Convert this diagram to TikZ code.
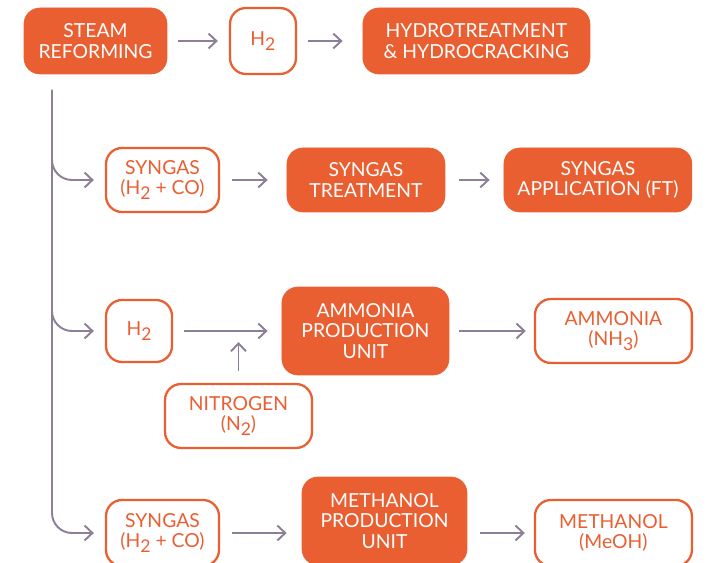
\documentclass[tikz,border=0pt]{standalone}
\usepackage{fontspec}
\setmainfont{Lato}
\usetikzlibrary{arrows.meta, positioning}
\definecolor{flame}{HTML}{E95F32}
\definecolor{pipe}{HTML}{8C7F96}
\newcommand{\chemsub}[1]{\raisebox{-0.45ex}{\fontsize{10}{10}\selectfont #1}}
\tikzstyle{unit} = [rectangle, rounded corners=0.32cm, fill=flame, draw=flame, text=white, align=center, inner sep=0pt, font=\fontsize{11}{11.5}\selectfont]
\tikzstyle{product} = [rectangle, rounded corners=0.32cm, draw=flame, line width=1.3pt, fill=white, text=flame, align=center, inner sep=0pt, font=\fontsize{11}{11.5}\selectfont]
\tikzstyle{arrow} = [line width=1.1pt, draw=pipe, -{Straight Barb[length=4.5pt,width=8.5pt,line width=1.1pt]}, shorten <=0.22cm, shorten >=0.22cm]

\begin{document}
\begin{tikzpicture}[x=0.02cm, y=-0.02cm]
\clip (0,0) rectangle (708,563);

% Nodes
\node (steam) [unit, minimum width=2.86cm, minimum height=1.32cm] at (95.5,41) {STEAM\\REFORMING};
\node (h2top) [product, minimum width=1.32cm, minimum height=1.32cm, right of=steam, node distance=3.35cm] {H\chemsub{2}};
\node (hydro) [unit, minimum width=4.54cm, minimum height=1.32cm, right of=h2top, node distance=4.27cm] {HYDROTREATMENT\\\& HYDROCRACKING};

\node (syn1) [product, minimum width=2.26cm, minimum height=1.28cm] at (162.5,180) {SYNGAS\\(H\chemsub{2} + CO)};
\node (syntreat) [unit, minimum width=3.16cm, minimum height=1.28cm, right of=syn1, node distance=4.07cm] {SYNGAS\\TREATMENT};
\node (synapp) [unit, minimum width=3.76cm, minimum height=1.28cm, right of=syntreat, node distance=4.64cm] {SYNGAS\\APPLICATION (FT)};

\node (h2mid) [product, minimum width=1.32cm, minimum height=1.24cm] at (139,331) {H\chemsub{2}};
\node (ammunit) [unit, minimum width=3.34cm, minimum height=1.76cm, right of=h2mid, node distance=4.53cm] {AMMONIA\\PRODUCTION\\UNIT};
\node (ammonia) [product, minimum width=3.14cm, minimum height=1.28cm, right of=ammunit, node distance=4.96cm] {AMMONIA\\(NH\chemsub{3})};
\node (nitrogen) [product, minimum width=2.94cm, minimum height=1.28cm] at (238.5,416) {NITROGEN\\(N\chemsub{2})};

\node (syn2) [product, minimum width=2.26cm, minimum height=1.32cm] at (162.5,533) {SYNGAS\\(H\chemsub{2} + CO)};
\node (methunit) [unit, minimum width=3.3cm, minimum height=1.76cm] at (384.5,521) {METHANOL\\PRODUCTION\\UNIT};
\node (methanol) [product, minimum width=3.14cm, minimum height=1.32cm, right of=syn2, node distance=9.02cm] {METHANOL\\(MeOH)};

\coordinate (trunk) at (52,90);
\coordinate (merge) at (nitrogen |- h2mid);

% Arrows
\draw [arrow] (steam) -- (h2top);
\draw [arrow, shorten >=0.4cm] (h2top) -- (hydro);
\draw [arrow, rounded corners=0.4cm, shorten <=0pt] (trunk) |- (syn1);
\draw [arrow, rounded corners=0.4cm, shorten <=0pt] (trunk) |- (h2mid);
\draw [arrow, rounded corners=0.4cm, shorten <=0pt] (trunk) |- (syn2);
\draw [arrow, shorten <=0.24cm, shorten >=0.38cm] (syn1) -- (syntreat);
\draw [arrow, shorten <=0.28cm, shorten >=0.28cm] (syntreat) -- (synapp);
\draw [arrow, shorten >=0.28cm] (h2mid) -- (ammunit);
\draw [arrow, shorten <=0.2cm, shorten >=0.16cm] (ammunit) -- (ammonia);
\draw [arrow, shorten <=0.24cm, shorten >=0.22cm] (nitrogen) -- (merge);
\draw [arrow, shorten <=0.24cm, shorten >=0.3cm] (syn2) -- (syn2 -| methunit.west);
\draw [arrow, shorten <=0.26cm, shorten >=0.18cm] (methunit.east |- methanol) -- (methanol);

\end{tikzpicture}
\end{document}
